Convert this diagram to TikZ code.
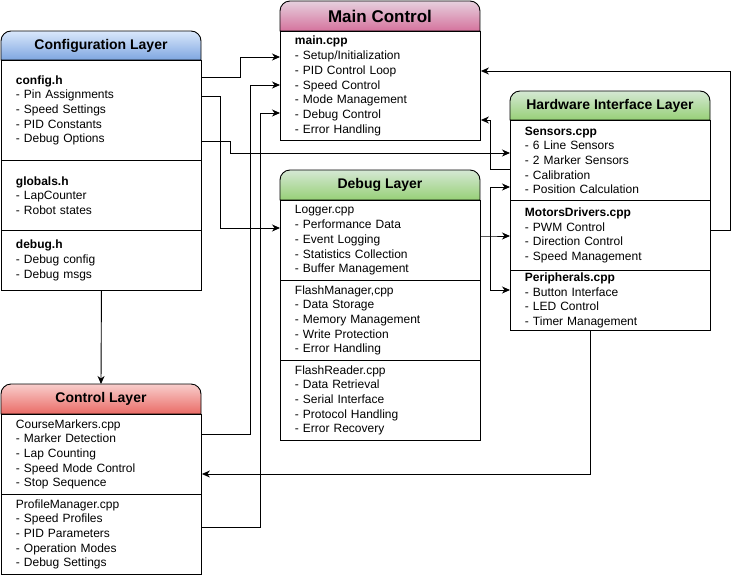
\documentclass[tikz,border=0pt]{standalone}
\usepackage{fontspec}
\setmainfont{Liberation Sans}
\usetikzlibrary{arrows.meta,calc}
\definecolor{blueT}{HTML}{DAE8FC}\definecolor{blueB}{HTML}{7EA6E0}
\definecolor{pinkT}{HTML}{E6D0DE}\definecolor{pinkB}{HTML}{D5739D}
\definecolor{greenT}{HTML}{D5E8D4}\definecolor{greenB}{HTML}{97D077}
\definecolor{redT}{HTML}{F8CECC}\definecolor{redB}{HTML}{EA6B66}
\tikzset{
  sec/.style={draw, line width=0.9pt, anchor=north west, minimum width=200pt, text width=171pt,
    inner xsep=14.5pt, inner ysep=0pt, align=left, font=\fontsize{12}{14.7}\selectfont},
  ttl/.style={font=\fontsize{14}{16}\selectfont\bfseries, inner sep=0pt},
  conn/.style={line width=0.9pt, -{Stealth[length=8pt,width=7pt,inset=2.5pt]}},
  plain/.style={line width=0.9pt}
}
\newcommand{\hdr}[5]{% x, ytop, ybottom, topcolor, bottomcolor
  \path[draw, line width=0.9pt, top color=#4, bottom color=#5]
    (#1,-#3) -- (#1,-#2-10) arc[start angle=180,end angle=90,radius=10pt]
    -- (#1+190,-#2) arc[start angle=90,end angle=0,radius=10pt] -- (#1+200,-#3) -- cycle;}
\begin{document}
\begin{tikzpicture}[x=1pt,y=1pt]
\useasboundingbox (0,0) rectangle (739,-576);
% Configuration Layer
\hdr{1}{31}{60}{blueT}{blueB}
\node[ttl] (cfgT) at (101,-45.5) {Configuration Layer};
\node[sec, minimum height=100pt] (cfgA) at (1,-60) {\textbf{config.h}\\- Pin Assignments\\- Speed Settings\\- PID Constants\\- Debug Options};
\node[sec, minimum height=70pt] (cfgB) at (1,-160) {\textbf{globals.h}\\- LapCounter\\- Robot states};
\node[sec, minimum height=60pt] (cfgC) at (1,-230) {\textbf{debug.h}\\- Debug config\\- Debug msgs};
% Main Control
\hdr{280}{1}{31}{pinkT}{pinkB}
\node[ttl, font=\fontsize{17}{19}\selectfont\bfseries] (mainT) at (380,-16) {Main Control};
\node[sec, minimum height=109pt] (mainA) at (280,-31) {\textbf{main.cpp}\\- Setup/Initialization\\- PID Control Loop\\- Speed Control\\- Mode Management\\- Debug Control\\- Error Handling};
% Hardware Interface Layer
\hdr{510}{91}{120}{greenT}{greenB}
\node[ttl] (hwT) at (610,-105.5) {Hardware Interface Layer};
\node[sec, minimum height=80pt] (hwA) at (510,-120) {\textbf{Sensors.cpp}\\- 6 Line Sensors\\- 2 Marker Sensors\\- Calibration\\- Position Calculation};
\node[sec, minimum height=70pt] (hwB) at (510,-200) {\textbf{MotorsDrivers.cpp}\\- PWM Control\\- Direction Control\\- Speed Management};
\node[sec, minimum height=60pt] (hwC) at (510,-270) {\textbf{Peripherals.cpp}\\- Button Interface\\- LED Control\\- Timer Management};
% Debug Layer
\hdr{280}{170}{200}{greenT}{greenB}
\node[ttl] (dbT) at (380,-185) {Debug Layer};
\node[sec, minimum height=80pt] (dbA) at (280,-200) {Logger.cpp\\- Performance Data\\- Event Logging\\- Statistics Collection\\- Buffer Management};
\node[sec, minimum height=80pt] (dbB) at (280,-280) {FlashManager,cpp\\- Data Storage\\- Memory Management\\- Write Protection\\- Error Handling};
\node[sec, minimum height=80pt] (dbC) at (280,-360) {FlashReader.cpp\\- Data Retrieval\\- Serial Interface\\- Protocol Handling\\- Error Recovery};
% Control Layer
\hdr{1}{384}{414}{redT}{redB}
\node[ttl] (ctT) at (101,-399) {Control Layer};
\node[sec, minimum height=80pt] (ctA) at (1,-414) {CourseMarkers.cpp\\- Marker Detection\\- Lap Counting\\- Speed Mode Control\\- Stop Sequence};
\node[sec, minimum height=80pt] (ctB) at (1,-494) {ProfileManager.cpp\\- Speed Profiles\\- PID Parameters\\- Operation Modes\\- Debug Settings};
\coordinate (ctTop) at (101,-384);
% Connectors
\draw[conn] (cfgA.east |- 0,-77) -- (240,-77) -- (240,-57) -- (mainA.west |- 0,-57);
\draw[conn] (ctA.east |- 0,-434) -- (250,-434) -- (250,-85) -- (mainA.west |- 0,-85);
\draw[conn] (ctB.east |- 0,-527) -- (260,-527) -- (260,-113) -- (mainA.west |- 0,-113);
\draw[conn] (cfgA.east |- 0,-96) -- (220,-96) -- (220,-228) -- (dbA.west |- 0,-228);
\draw[conn] (cfgA.east |- 0,-141) -- (230,-141) -- (230,-153) -- (hwA.west |- 0,-153);
\draw[conn] (cfgC.south) -- (ctTop);
\draw[conn] (hwB.east |- 0,-230) -- (730,-230) -- (730,-71) -- (mainA.east |- 0,-71);
\draw[conn] (hwA.west |- 0,-169) -- (490,-169) -- (490,-120) -- (mainA.east |- 0,-120);
\coordinate (split) at (490,-236);
\draw[conn] (dbA.east |- 0,-236) -- (split) -- (hwB.west |- 0,-236);
\draw[conn] (split) -- (490,-187) -- (hwA.west |- 0,-187);
\draw[conn] (split) -- (490,-290) -- (hwC.west |- 0,-290);
\draw[conn] (hwC.south -| 590,0) -- (590,-474) -- (ctA.east |- 0,-474);
\end{tikzpicture}
\end{document}
